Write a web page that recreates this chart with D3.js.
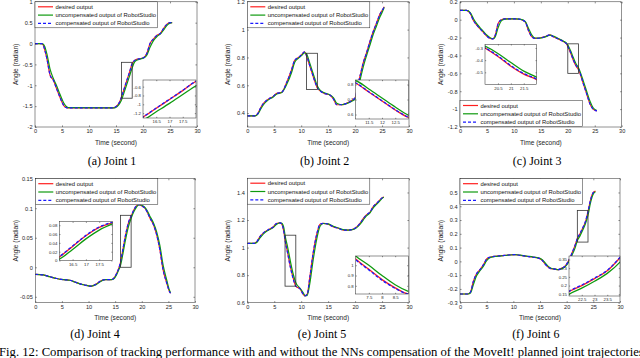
<!DOCTYPE html>
<html>
<head>
<meta charset="utf-8">
<script src="https://cdn.jsdelivr.net/npm/d3@7"></script>
<style>
  body { margin: 0; background: #fff; }
  svg { display: block; font-family: "Liberation Sans", Arial, sans-serif; }
  .cap { font-family: "Liberation Serif", "Times New Roman", serif; }
</style>
</head>
<body>
<svg id="fig" width="640" height="358"></svg>
<script>
// ---- data (time in s, angle in rad) ----
const xTicks = [0, 5, 10, 15, 20, 25, 30];
const legendLabels = ["desired output", "uncompensated output of RobotStudio", "compensated output of RobotStudio"];
const captions = ["(a) Joint 1", "(b) Joint 2", "(c) Joint 3", "(d) Joint 4", "(e) Joint 5", "(f) Joint 6"];
const figCaption = "Fig. 12: Comparison of tracking performance with and without the NNs compensation of the MoveIt! planned joint trajectories";

// joint 1
const j1Time = [0, 1.2, 1.5, 1.8, 2.2, 2.8, 3.4, 4.0, 4.6, 5.3, 5.8, 6.2, 14.5, 14.9, 15.5, 16.0, 16.5, 17.0, 17.5, 18.0, 18.5, 19.5, 20.1, 20.7, 21.3, 22.0, 22.6, 23.2, 23.8, 24.4, 25.0, 25.4];
const j1Desired = [0, 0, -0.03, -0.15, -0.36, -0.76, -0.88, -1.08, -1.28, -1.48, -1.535, -1.54, -1.54, -1.52, -1.44, -1.29, -1.09, -0.89, -0.69, -0.48, -0.40, -0.36, -0.34, -0.24, 0.0, 0.12, 0.2, 0.24, 0.36, 0.46, 0.5, 0.5];
const j1Uncomp = [0, 0, -0.01, -0.07, -0.25, -0.62, -0.84, -1.01, -1.21, -1.42, -1.51, -1.535, -1.54, -1.535, -1.47, -1.36, -1.17, -0.98, -0.78, -0.58, -0.43, -0.37, -0.345, -0.28, -0.09, 0.08, 0.17, 0.225, 0.32, 0.43, 0.49, 0.5];
const j1Comp = [0, 0, -0.03, -0.15, -0.36, -0.76, -0.88, -1.08, -1.28, -1.48, -1.535, -1.54, -1.54, -1.52, -1.44, -1.285, -1.085, -0.885, -0.685, -0.48, -0.40, -0.36, -0.34, -0.24, 0.0, 0.12, 0.2, 0.24, 0.36, 0.46, 0.5, 0.5];
const j1YTicks = [-2, -1.5, -1, -0.5, 0, 0.5, 1];
const j1ZoomT = [16, 18], j1ZoomY = [-1.31, -0.45];
const j1ZoomTTicks = [16.5, 17, 17.5], j1ZoomYTicks = [-1.2, -1, -0.8, -0.6];

// joint 2
const j2Time = [0, 1.4, 2.0, 2.5, 3.0, 3.9, 4.8, 5.4, 6.4, 7.3, 8.2, 8.8, 9.5, 10.1, 10.6, 11.0, 11.5, 12.0, 12.5, 13.0, 13.5, 14.4, 15.3, 16.0, 16.6, 17.5, 18.4, 19.4, 20.0, 20.5, 21.0, 21.5, 22.1, 22.8, 23.4, 24.0, 24.6, 25.2, 25.4];
const j2Desired = [0.38, 0.38, 0.40, 0.44, 0.47, 0.50, 0.52, 0.54, 0.55, 0.62, 0.71, 0.78, 0.80, 0.82, 0.84, 0.81, 0.75, 0.69, 0.63, 0.58, 0.56, 0.54, 0.53, 0.50, 0.46, 0.46, 0.47, 0.49, 0.51, 0.60, 0.68, 0.76, 0.83, 0.92, 0.99, 1.05, 1.11, 1.15, 1.165];
const j2Uncomp = [0.38, 0.38, 0.395, 0.43, 0.46, 0.495, 0.516, 0.535, 0.548, 0.605, 0.69, 0.765, 0.795, 0.815, 0.833, 0.825, 0.77, 0.71, 0.65, 0.595, 0.565, 0.544, 0.532, 0.51, 0.47, 0.46, 0.468, 0.486, 0.50, 0.575, 0.65, 0.73, 0.81, 0.895, 0.97, 1.03, 1.09, 1.14, 1.16];
const j2Comp = [0.38, 0.38, 0.40, 0.44, 0.47, 0.50, 0.52, 0.54, 0.55, 0.62, 0.71, 0.78, 0.80, 0.82, 0.84, 0.812, 0.752, 0.692, 0.632, 0.582, 0.56, 0.54, 0.53, 0.50, 0.46, 0.46, 0.47, 0.49, 0.51, 0.60, 0.68, 0.76, 0.83, 0.92, 0.99, 1.05, 1.11, 1.15, 1.165];
const j2YTicks = [0.4, 0.6, 0.8, 1, 1.2];
const j2ZoomT = [11, 13], j2ZoomY = [0.57, 0.83];
const j2ZoomTTicks = [11.5, 12, 12.5], j2ZoomYTicks = [0.6, 0.7, 0.8];

// joint 3
const j3Time = [0, 1.2, 1.9, 2.5, 3.1, 3.7, 4.3, 4.9, 5.6, 6.1, 6.5, 7.1, 7.7, 8.3, 10.2, 11.1, 12.1, 12.7, 13.3, 13.9, 14.8, 15.8, 16.7, 17.3, 18.2, 19.2, 19.8, 20.0, 20.5, 21.0, 21.5, 22.0, 22.9, 23.5, 24.1, 24.7, 25.4];
const j3Desired = [0.105, 0.105, 0.07, -0.01, -0.06, -0.10, -0.14, -0.18, -0.21, -0.215, -0.18, -0.04, 0.0, 0.01, 0.01, 0.005, -0.025, -0.12, -0.19, -0.21, -0.205, -0.19, -0.17, -0.19, -0.215, -0.245, -0.275, -0.30, -0.37, -0.45, -0.515, -0.56, -0.72, -0.83, -0.94, -1.0, -1.02];
const j3Uncomp = [0.105, 0.105, 0.08, 0.01, -0.045, -0.088, -0.128, -0.168, -0.202, -0.213, -0.195, -0.085, -0.01, 0.007, 0.01, 0.007, -0.02, -0.095, -0.17, -0.205, -0.206, -0.193, -0.173, -0.183, -0.21, -0.24, -0.266, -0.285, -0.345, -0.42, -0.49, -0.54, -0.69, -0.80, -0.91, -0.985, -1.015];
const j3Comp = [0.105, 0.105, 0.07, -0.01, -0.06, -0.10, -0.14, -0.18, -0.21, -0.215, -0.18, -0.04, 0.0, 0.01, 0.01, 0.005, -0.025, -0.12, -0.19, -0.21, -0.205, -0.19, -0.17, -0.19, -0.215, -0.245, -0.273, -0.297, -0.365, -0.445, -0.51, -0.556, -0.72, -0.83, -0.94, -1.0, -1.02];
const j3YTicks = [-1.2, -1, -0.8, -0.6, -0.4, -0.2, 0, 0.2];
const j3ZoomT = [20, 22], j3ZoomY = [-0.6, -0.27];
const j3ZoomTTicks = [20.5, 21, 21.5], j3ZoomYTicks = [-0.5, -0.4, -0.3];

// joint 4
const j4Time = [0, 1.5, 2.75, 4.0, 5.3, 6.5, 7.45, 8.4, 9.3, 10.3, 10.9, 11.5, 12.1, 13.1, 14.3, 14.8, 15.3, 15.7, 16.0, 16.5, 17.0, 17.5, 18.0, 18.5, 19.0, 19.5, 20.0, 20.5, 21.0, 21.5, 22.2, 22.8, 23.4, 24.0, 24.7, 25.2, 25.4];
const j4Desired = [-0.012, -0.013, -0.016, -0.019, -0.021, -0.022, -0.025, -0.028, -0.030, -0.032, -0.031, -0.028, -0.024, -0.021, -0.021, -0.018, -0.010, -0.001, 0.008, 0.032, 0.056, 0.075, 0.086, 0.097, 0.104, 0.106, 0.104, 0.101, 0.094, 0.084, 0.072, 0.055, 0.03, -0.004, -0.027, -0.041, -0.044];
const j4Uncomp = [-0.012, -0.013, -0.016, -0.019, -0.021, -0.022, -0.025, -0.028, -0.030, -0.032, -0.031, -0.029, -0.025, -0.021, -0.021, -0.019, -0.012, -0.004, 0.003, 0.025, 0.049, 0.069, 0.083, 0.094, 0.102, 0.106, 0.105, 0.102, 0.096, 0.087, 0.075, 0.06, 0.037, 0.004, -0.022, -0.039, -0.043];
const j4Comp = [-0.012, -0.013, -0.016, -0.019, -0.021, -0.022, -0.025, -0.028, -0.030, -0.032, -0.031, -0.028, -0.024, -0.021, -0.021, -0.018, -0.010, -0.001, 0.009, 0.033, 0.057, 0.076, 0.087, 0.097, 0.104, 0.106, 0.104, 0.101, 0.094, 0.084, 0.072, 0.055, 0.03, -0.004, -0.027, -0.041, -0.044];
const j4YTicks = [-0.05, 0, 0.05, 0.1, 0.15];
const j4ZoomT = [16, 18], j4ZoomY = [0, 0.088];
const j4ZoomTTicks = [16.5, 17, 17.5], j4ZoomYTicks = [0, 0.02, 0.04, 0.06, 0.08];

// joint 5
const j5Time = [0, 1.1, 1.7, 2.35, 3.0, 3.9, 4.8, 5.4, 6.1, 6.4, 6.8, 7.0, 7.5, 8.0, 8.5, 9.0, 9.8, 10.4, 10.7, 11.1, 11.6, 12.2, 12.9, 13.5, 14.1, 15.0, 16.0, 16.9, 17.8, 18.7, 19.7, 20.3, 20.9, 21.5, 22.1, 22.8, 23.4, 24.0, 24.6, 25.1, 25.35];
const j5Desired = [1.03, 1.03, 1.04, 1.08, 1.107, 1.13, 1.15, 1.175, 1.18, 1.17, 1.11, 1.06, 0.96, 0.86, 0.78, 0.72, 0.70, 0.66, 0.65, 0.66, 0.785, 0.956, 1.10, 1.17, 1.176, 1.17, 1.15, 1.14, 1.127, 1.127, 1.134, 1.15, 1.175, 1.21, 1.237, 1.26, 1.30, 1.32, 1.346, 1.363, 1.366];
const j5Uncomp = [1.03, 1.03, 1.036, 1.07, 1.10, 1.126, 1.145, 1.168, 1.179, 1.176, 1.14, 1.09, 1.0, 0.90, 0.81, 0.745, 0.705, 0.67, 0.652, 0.652, 0.74, 0.905, 1.065, 1.155, 1.175, 1.172, 1.154, 1.142, 1.13, 1.127, 1.132, 1.145, 1.168, 1.20, 1.23, 1.254, 1.29, 1.315, 1.34, 1.36, 1.365];
const j5Comp = [1.03, 1.03, 1.04, 1.08, 1.107, 1.13, 1.15, 1.175, 1.18, 1.17, 1.11, 1.055, 0.955, 0.855, 0.775, 0.72, 0.70, 0.66, 0.65, 0.66, 0.785, 0.956, 1.10, 1.17, 1.176, 1.17, 1.15, 1.14, 1.127, 1.127, 1.134, 1.15, 1.175, 1.21, 1.237, 1.26, 1.30, 1.32, 1.346, 1.363, 1.366];
const j5YTicks = [0.6, 0.8, 1, 1.2, 1.4];
const j5ZoomT = [7, 9], j5ZoomY = [0.72, 1.09];
const j5ZoomTTicks = [7.5, 8, 8.5], j5ZoomYTicks = [0.8, 0.9, 1];

// joint 6
const j6Time = [0, 1.5, 2.0, 2.5, 3.1, 3.75, 4.4, 5.0, 5.6, 6.6, 7.8, 9.0, 10.3, 11.25, 12.5, 13.75, 14.7, 15.3, 15.9, 16.6, 17.2, 17.8, 18.4, 19.0, 19.7, 20.3, 21.0, 21.6, 22.0, 22.5, 23.0, 23.5, 24.0, 24.5, 25.0, 25.4];
const j6Desired = [-0.237, -0.237, -0.22, -0.146, -0.09, -0.06, -0.024, 0.017, 0.03, 0.037, 0.041, 0.046, 0.049, 0.044, 0.037, 0.03, 0.024, 0.012, -0.017, -0.044, -0.054, -0.056, -0.061, -0.051, -0.035, 0.0, 0.06, 0.12, 0.165, 0.2, 0.24, 0.285, 0.36, 0.45, 0.5, 0.51];
const j6Uncomp = [-0.237, -0.237, -0.228, -0.17, -0.105, -0.068, -0.035, 0.005, 0.027, 0.036, 0.04, 0.045, 0.049, 0.045, 0.038, 0.031, 0.025, 0.016, -0.008, -0.038, -0.052, -0.056, -0.06, -0.054, -0.04, -0.01, 0.045, 0.10, 0.15, 0.185, 0.225, 0.27, 0.335, 0.43, 0.49, 0.505];
const j6Comp = [-0.237, -0.237, -0.22, -0.146, -0.09, -0.06, -0.024, 0.017, 0.03, 0.037, 0.041, 0.046, 0.049, 0.044, 0.037, 0.03, 0.024, 0.012, -0.017, -0.044, -0.054, -0.056, -0.061, -0.051, -0.035, 0.0, 0.06, 0.12, 0.167, 0.203, 0.243, 0.288, 0.362, 0.45, 0.5, 0.51];
const j6YTicks = [-0.3, -0.2, -0.1, 0, 0.1, 0.2, 0.3, 0.4, 0.5];
const j6ZoomT = [22, 24], j6ZoomY = [0.14, 0.37];
const j6ZoomTTicks = [22.5, 23, 23.5], j6ZoomYTicks = [0.15, 0.2, 0.25, 0.3, 0.35];

// ---- layout ----
const panels = [
  { time: j1Time, series: [j1Desired, j1Uncomp, j1Comp], yDomain: [-2, 1], yTicks: j1YTicks,
    zt: j1ZoomT, zy: j1ZoomY, ztTicks: j1ZoomTTicks, zyTicks: j1ZoomYTicks,
    box: { x: 35, y: 1.8, w: 162, h: 125.2 }, inset: { x: 143, y: 80, w: 53, h: 38 },
    legend: { x: 35, y: 1.8 }, cap: { x: 112, y: 165 } },
  { time: j2Time, series: [j2Desired, j2Uncomp, j2Comp], yDomain: [0.3, 1.2], yTicks: j2YTicks,
    zt: j2ZoomT, zy: j2ZoomY, ztTicks: j2ZoomTTicks, zyTicks: j2ZoomYTicks,
    box: { x: 247.3, y: 1.8, w: 161.7, h: 125.2 }, inset: { x: 355.5, y: 80, w: 53, h: 39 },
    legend: { x: 247.3, y: 1.8 }, cap: { x: 324.7, y: 165 } },
  { time: j3Time, series: [j3Desired, j3Uncomp, j3Comp], yDomain: [-1.2, 0.2], yTicks: j3YTicks,
    zt: j3ZoomT, zy: j3ZoomY, ztTicks: j3ZoomTTicks, zyTicks: j3ZoomYTicks,
    box: { x: 460, y: 1.8, w: 161.7, h: 125.2 }, inset: { x: 485, y: 44.3, w: 51.7, h: 40.2 },
    legend: { x: 460, y: 100.5 }, cap: { x: 537.2, y: 165 } },
  { time: j4Time, series: [j4Desired, j4Uncomp, j4Comp], yDomain: [-0.06, 0.15], yTicks: j4YTicks,
    zt: j4ZoomT, zy: j4ZoomY, ztTicks: j4ZoomTTicks, zyTicks: j4ZoomYTicks,
    box: { x: 35.3, y: 178.7, w: 159.7, h: 124 }, inset: { x: 59.3, y: 221.7, w: 53.2, h: 38.8 },
    legend: { x: 35.3, y: 178.7 }, cap: { x: 95, y: 338 } },
  { time: j5Time, series: [j5Desired, j5Uncomp, j5Comp], yDomain: [0.6, 1.5], yTicks: j5YTicks,
    zt: j5ZoomT, zy: j5ZoomY, ztTicks: j5ZoomTTicks, zyTicks: j5ZoomYTicks,
    box: { x: 247.3, y: 178.7, w: 161.7, h: 124 }, inset: { x: 355.7, y: 256, w: 52.6, h: 38 },
    legend: { x: 247.3, y: 178.2 }, cap: { x: 322, y: 338 } },
  { time: j6Time, series: [j6Desired, j6Uncomp, j6Comp], yDomain: [-0.3, 0.6], yTicks: j6YTicks,
    zt: j6ZoomT, zy: j6ZoomY, ztTicks: j6ZoomTTicks, zyTicks: j6ZoomYTicks,
    box: { x: 460, y: 178.7, w: 160, h: 124 }, inset: { x: 569, y: 256, w: 51, h: 40 },
    legend: { x: 460, y: 178.7 }, cap: { x: 535.8, y: 338 } }
];

const colors = ["#ff1f1f", "#0f9a0f", "#1a1aff"];
const dashes = [null, null, "3,2"];
const axColor = "#262626";
const fmt = d => String(d);

const svg = d3.select("#fig");
const defs = svg.append("defs");

function styleAxis(sel, size) {
  sel.select(".domain").remove();
  sel.selectAll(".tick line").attr("stroke", axColor).attr("stroke-width", 0.5);
  sel.selectAll(".tick text").attr("fill", axColor).attr("font-size", size)
    .attr("font-family", "Liberation Sans, Arial, sans-serif");
}

function drawAxes(g, x, y, b, yTicks, xT, tickLen, size, pad) {
  g.append("g").attr("transform", `translate(0,${b.y + b.h})`)
    .call(d3.axisBottom(x).tickValues(xT).tickFormat(fmt).tickSize(-tickLen).tickPadding(pad))
    .call(s => styleAxis(s, size));
  g.append("g").attr("transform", `translate(${b.x},0)`)
    .call(d3.axisLeft(y).tickValues(yTicks).tickFormat(fmt).tickSize(-tickLen).tickPadding(pad))
    .call(s => styleAxis(s, size));
  g.append("g").attr("transform", `translate(0,${b.y})`)
    .call(d3.axisTop(x).tickValues(xT).tickFormat("").tickSize(-tickLen))
    .call(s => styleAxis(s, size));
  g.append("g").attr("transform", `translate(${b.x + b.w},0)`)
    .call(d3.axisRight(y).tickValues(yTicks).tickFormat("").tickSize(-tickLen))
    .call(s => styleAxis(s, size));
  g.append("rect").attr("x", b.x).attr("y", b.y).attr("width", b.w).attr("height", b.h)
    .attr("fill", "none").attr("stroke", axColor).attr("stroke-width", 0.5);
}

function drawCurves(g, p, x, y, width, clipId) {
  const cg = g.append("g").attr("clip-path", `url(#${clipId})`);
  p.series.forEach((vals, k) => {
    const line = d3.line()
      .x((d, i) => x(p.time[i]))
      .y(d => y(d))
      .curve(d3.curveMonotoneX);
    cg.append("path").datum(vals)
      .attr("d", line)
      .attr("fill", "none")
      .attr("stroke", colors[k])
      .attr("stroke-width", width)
      .attr("stroke-dasharray", dashes[k]);
  });
}

panels.forEach((p, idx) => {
  const b = p.box;
  const g = svg.append("g");
  const x = d3.scaleLinear().domain([0, 30]).range([b.x, b.x + b.w]);
  const y = d3.scaleLinear().domain(p.yDomain).range([b.y + b.h, b.y]);

  defs.append("clipPath").attr("id", "clip" + idx).append("rect")
    .attr("x", b.x).attr("y", b.y).attr("width", b.w).attr("height", b.h);

  g.append("rect").attr("x", b.x).attr("y", b.y).attr("width", b.w).attr("height", b.h).attr("fill", "#fff");
  drawCurves(g, p, x, y, 1.2, "clip" + idx);

  // zoom window
  g.append("rect")
    .attr("x", x(p.zt[0])).attr("y", y(p.zy[1]))
    .attr("width", x(p.zt[1]) - x(p.zt[0])).attr("height", y(p.zy[0]) - y(p.zy[1]))
    .attr("fill", "none").attr("stroke", "#333").attr("stroke-width", 0.8);

  drawAxes(g, x, y, b, p.yTicks, xTicks, 1.6, 5.6, 2.5);

  g.append("text").attr("x", b.x + b.w / 2).attr("y", b.y + b.h + 17.5)
    .attr("text-anchor", "middle").attr("font-size", 6.6).attr("fill", axColor).text("Time (second)");
  g.append("text").attr("transform", `translate(${b.x - 17.5},${b.y + b.h / 2}) rotate(-90)`)
    .attr("text-anchor", "middle").attr("font-size", 6.6).attr("fill", axColor).text("Angle (radian)");

  // legend
  const L = p.legend;
  const lg = g.append("g").attr("transform", `translate(${L.x},${L.y})`);
  lg.append("rect").attr("width", 122.5).attr("height", 26).attr("fill", "#fff")
    .attr("stroke", axColor).attr("stroke-width", 0.5);
  legendLabels.forEach((t, k) => {
    const ly = 5 + k * 8.3;
    lg.append("line").attr("x1", 3).attr("x2", 18).attr("y1", ly).attr("y2", ly)
      .attr("stroke", colors[k]).attr("stroke-width", 1.2).attr("stroke-dasharray", dashes[k]);
    lg.append("text").attr("x", 20.5).attr("y", ly).attr("dy", "0.35em")
      .attr("font-size", 5.9).attr("fill", "#111").text(t);
  });

  // inset
  const ib = p.inset;
  const ix = d3.scaleLinear().domain(p.zt).range([ib.x, ib.x + ib.w]);
  const iy = d3.scaleLinear().domain(p.zy).range([ib.y + ib.h, ib.y]);
  defs.append("clipPath").attr("id", "iclip" + idx).append("rect")
    .attr("x", ib.x).attr("y", ib.y).attr("width", ib.w).attr("height", ib.h);
  const ig = g.append("g");
  ig.append("rect").attr("x", ib.x).attr("y", ib.y).attr("width", ib.w).attr("height", ib.h).attr("fill", "#fff");
  drawCurves(ig, p, ix, iy, 1.3, "iclip" + idx);
  drawAxes(ig, ix, iy, ib, p.zyTicks, p.ztTicks, 1.2, 4.3, 2);

  svg.append("text").attr("class", "cap").attr("x", p.cap.x).attr("y", p.cap.y)
    .attr("text-anchor", "middle").attr("font-size", 12).attr("fill", "#000").text(captions[idx]);
});

// the caption runs past the right edge in the source figure too
svg.append("text").attr("class", "cap").attr("x", -1).attr("y", 356)
  .attr("font-size", 12.7).attr("fill", "#000").text(figCaption);
</script>
</body>
</html>
